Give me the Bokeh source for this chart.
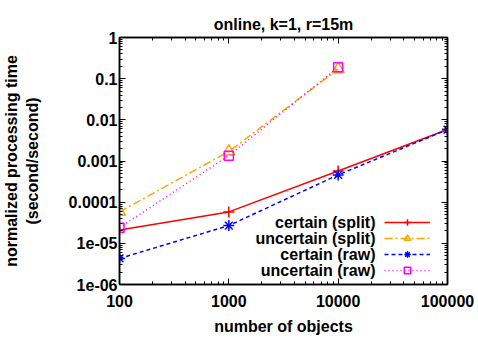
from bokeh.plotting import figure
from bokeh.models import FixedTicker, LogAxis, Legend, LegendItem, Label, CustomJSTickFormatter
from bokeh.embed import file_html
from bokeh.resources import INLINE

# ---- data ----
n_objects = [100, 1000, 10000, 100000]
n_objects_uncertain = [100, 1000, 10000]
certain_split = [2.1e-5, 5.8e-5, 5.7e-4, 5.8e-3]
uncertain_split = [5.8e-5, 1.7e-3, 0.17]
certain_raw = [4.3e-6, 2.7e-5, 4.6e-4, 5.8e-3]
uncertain_raw = [2.4e-5, 1.35e-3, 0.19]

x_ticks = [100, 1000, 10000, 100000]
x_tick_labels = ["100", "1000", "10000", "100000"]
y_ticks = [1e-6, 1e-5, 1e-4, 1e-3, 1e-2, 1e-1, 1.0]
y_tick_labels = ["1e-06", "1e-05", "0.0001", "0.001", "0.01", "0.1", "1"]
series_names = ["certain (split)", "uncertain (split)", "certain (raw)", "uncertain (raw)"]

FONT = "Liberation Sans"
FS = "16px"

x_minor = [m * 10 ** e for e in range(2, 5) for m in range(2, 10)]
y_minor = [m * 10.0 ** e for e in range(-6, 0) for m in range(2, 10)]
xticker = FixedTicker(ticks=x_ticks, minor_ticks=x_minor)
yticker = FixedTicker(ticks=y_ticks, minor_ticks=y_minor)

LOOKUP = """
const i = tvals.findIndex(t => Math.abs(Math.log10(t / tick)) < 1e-6);
return i >= 0 ? tlabels[i] : "";
"""

def fmt(vals, labels):
    return CustomJSTickFormatter(args=dict(tvals=vals, tlabels=labels), code=LOOKUP)

p = figure(width=478, height=339, x_axis_type="log", y_axis_type="log",
           x_range=(100, 100000), y_range=(1e-6, 1),
           output_backend="svg", toolbar_location=None,
           min_border_left=119, min_border_right=31,
           min_border_top=37, min_border_bottom=55)
p.grid.visible = False
p.outline_line_color = "black"
p.outline_line_width = 1.5

p.title.text = "online, k=1, r=15m"
p.title.align = "center"
p.title.text_font = FONT
p.title.text_font_size = FS
p.title.text_font_style = "bold"
p.title.text_color = "black"

def style_axis(ax, ticker, labels=True):
    ax.ticker = ticker
    ax.axis_line_width = 1.5
    ax.major_tick_in = 6
    ax.major_tick_out = 0
    ax.minor_tick_in = 3
    ax.minor_tick_out = 0
    ax.major_tick_line_width = 1
    ax.minor_tick_line_width = 1
    ax.major_label_text_font = FONT
    ax.major_label_text_font_style = "bold"
    ax.major_label_text_color = "black"
    if labels:
        ax.major_label_text_font_size = FS
    else:
        ax.major_label_text_font_size = "1px"
        ax.major_label_text_alpha = 0
        ax.major_label_standoff = 0

style_axis(p.xaxis[0], xticker)
style_axis(p.yaxis[0], yticker)
p.xaxis[0].formatter = fmt(x_ticks, x_tick_labels)
p.yaxis[0].formatter = fmt(y_ticks, y_tick_labels)
p.xaxis[0].major_label_standoff = 10
p.yaxis[0].major_label_standoff = 2

for ax, lab in ((p.xaxis[0], "number of objects"),
                (p.yaxis[0], "normalized processing time\n(second/second)")):
    ax.axis_label = lab
    ax.axis_label_text_font = FONT
    ax.axis_label_text_font_style = "bold"
    ax.axis_label_text_font_size = FS
    ax.axis_label_text_color = "black"
p.xaxis[0].axis_label_standoff = 8
p.yaxis[0].axis_label_standoff = 25

ax_r = LogAxis()
style_axis(ax_r, yticker, labels=False)
p.add_layout(ax_r, "right")
ax_t = LogAxis()
style_axis(ax_t, xticker, labels=False)
p.add_layout(ax_t, "above")

LW = 1.5
l1 = p.line(n_objects, certain_split, color="#ff0000", line_width=LW)
s1 = p.scatter(n_objects, certain_split, marker="cross", size=11, line_color="#ff0000", line_width=LW)
l2 = p.line(n_objects_uncertain, uncertain_split, color="#ffa500", line_width=LW, line_dash="8 3 2 3")
s2 = p.scatter(n_objects_uncertain, uncertain_split, marker="triangle", size=12, line_color="#ffa500",
               fill_color=None, line_width=LW)
l3 = p.line(n_objects, certain_raw, color="#0000ff", line_width=LW, line_dash="4 3")
s3 = p.scatter(n_objects, certain_raw, marker="asterisk", size=11, line_color="#0000ff", line_width=LW)
l4 = p.line(n_objects_uncertain, uncertain_raw, color="#ff00ff", line_width=LW, line_dash="1 3")
s4 = p.scatter(n_objects_uncertain, uncertain_raw, marker="square", size=9, line_color="#ff00ff",
               fill_color=None, line_width=LW)

legend = Legend(items=[LegendItem(label=" ", renderers=[l1, s1]),
                       LegendItem(label=" ", renderers=[l2, s2]),
                       LegendItem(label=" ", renderers=[l3, s3]),
                       LegendItem(label=" ", renderers=[l4, s4])],
                location=(265, 6), glyph_width=46, glyph_height=16, label_height=16,
                spacing=0, padding=0, margin=0, border_line_color=None,
                background_fill_alpha=0, label_standoff=0, label_width=0,
                label_text_font_size="2px")
p.add_layout(legend)

for i, name in enumerate(series_names):
    p.add_layout(Label(x=256, y=62 - 16 * i, x_units="screen", y_units="screen", text=name,
                       text_align="right", text_baseline="middle", text_font=FONT,
                       text_font_style="bold", text_font_size=FS, text_color="black"))

open("out.html", "w").write(file_html(p, INLINE))
